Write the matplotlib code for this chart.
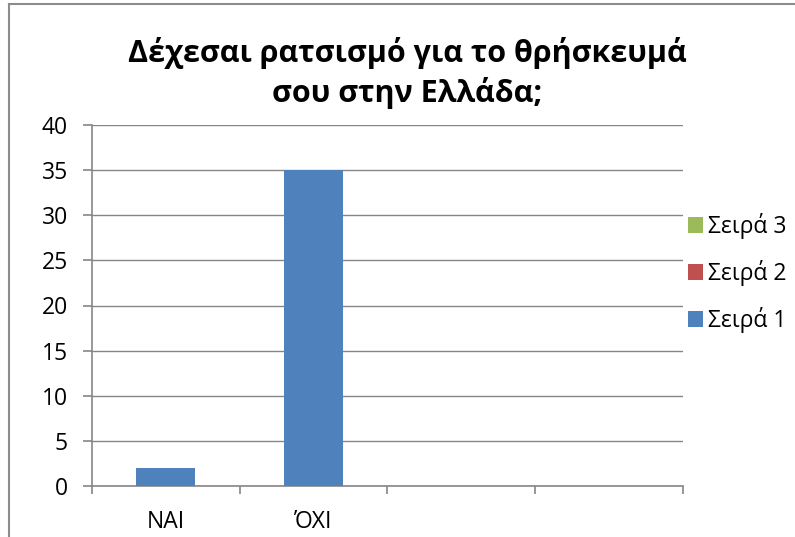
import numpy as np
import matplotlib.pyplot as plt
from matplotlib.lines import Line2D

plt.rcParams['font.family'] = ['Open Sans', 'DejaVu Sans']

# data
categories = ["NAI", "ΌΧΙ", "", ""]
series1 = [2, 35, 0, 0]
series2 = [0, 0, 0, 0]
series3 = [0, 0, 0, 0]
series_names = ["Σειρά 1", "Σειρά 2", "Σειρά 3"]
colors = ["#4F81BD", "#C0504D", "#9BBB59"]
title = "Δέχεσαι ρατσισμό για το θρήσκευμά\nσου στην Ελλάδα;"

W, H = 795, 537
fig = plt.figure(figsize=(W / 100, H / 100), dpi=100)
ax = fig.add_axes([92 / W, 1 - 486 / H, (683 - 92) / W, (486 - 125) / H])

x = np.arange(len(categories))
handles = []
for vals, name, col in zip([series1, series2, series3], series_names, colors):
    b = ax.bar(x, vals, width=0.4, color=col, linewidth=0, label=name, zorder=3)
    handles.append(b)

ax.set_xlim(-0.5, len(categories) - 0.5)
ax.set_ylim(0, 40)
ax.set_yticks(np.arange(0, 41, 5))
ax.yaxis.grid(True, color="#868686", linewidth=1.0, zorder=0)

gray = "#868686"
for s in ["top", "right"]:
    ax.spines[s].set_visible(False)
for s in ["left", "bottom"]:
    ax.spines[s].set_color(gray)
    ax.spines[s].set_linewidth(1.2)

ax.set_xticks(x)
ax.set_xticklabels(categories)
ax.set_xticks(np.arange(-0.5, len(categories)), minor=True)
ax.tick_params(axis="x", which="major", length=0, pad=17, labelsize=16.5)
ax.tick_params(axis="x", which="minor", length=6, color=gray, width=1.2)
ax.tick_params(axis="y", length=6.5, color=gray, width=1.2, pad=11, labelsize=16.5)

fig.text(0.512, 1 - 73 / H, title, ha="center", va="center",
         fontsize=22, fontweight="bold", linespacing=1.35)

leg = fig.legend(handles=handles[::-1], loc="center left",
                 bbox_to_anchor=(677 / W, 1 - 273 / H), frameon=False,
                 fontsize=16.5, handlelength=0.65, handleheight=0.65,
                 handletextpad=0.2, labelspacing=0.92, borderpad=0)

# outer chart frame
fig.add_artist(Line2D([9 / W, 9 / W], [0, 1 - 4 / H], color="#8c8c8c", linewidth=1.5))
fig.add_artist(Line2D([9 / W, 1], [1 - 4 / H, 1 - 4 / H], color="#8c8c8c", linewidth=1.5))

fig.savefig("out.png", dpi=100)
